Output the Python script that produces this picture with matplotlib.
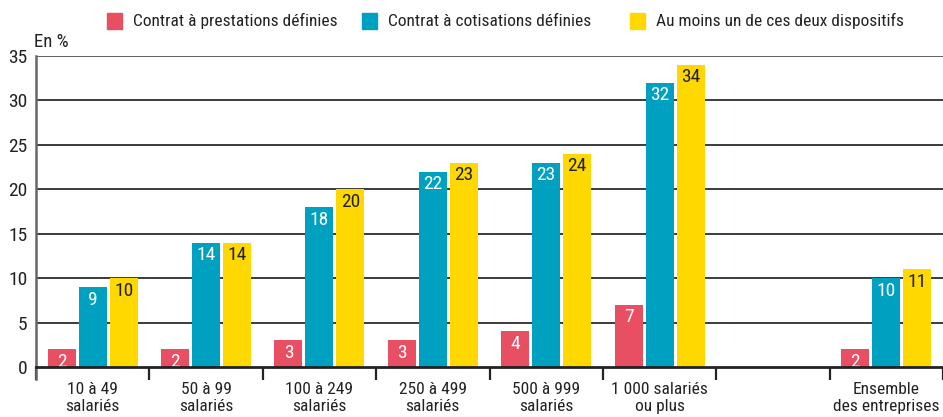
import numpy as np
import matplotlib.pyplot as plt
from matplotlib.patches import Rectangle

plt.rcParams['font.family'] = ['Liberation Sans Narrow', 'Roboto Condensed', 'Roboto', 'DejaVu Sans']
plt.rcParams['font.stretch'] = 'condensed'

categories = ['10 à 49\nsalariés', '50 à 99\nsalariés', '100 à 249\nsalariés',
              '250 à 499\nsalariés', '500 à 999\nsalariés', '1 000 salariés\nou plus',
              '', 'Ensemble\ndes entreprises']
prestations = [2, 2, 3, 3, 4, 7, None, 2]
cotisations = [9, 14, 18, 22, 23, 32, None, 10]
au_moins_un = [10, 14, 20, 23, 24, 34, None, 11]
series_names = ['Contrat à prestations définies', 'Contrat à cotisations définies',
                'Au moins un de ces deux dispositifs']

colors = ['#E84F63', '#00A0C0', '#FFD800']
text_colors = ['white', 'white', '#222222']

fig = plt.figure(figsize=(9.43, 4.17), dpi=100)
ax = fig.add_axes([36 / 943, 50 / 417, 1 - 36 / 943, 311 / 417])

x = np.arange(len(categories))
width = 0.247
offsets = [-0.273, 0, 0.273]

for vals, off, c, tc in zip([prestations, cotisations, au_moins_un], offsets, colors, text_colors):
    for xi, v in zip(x, vals):
        if v is None:
            continue
        ax.bar(xi + off, v, width=width, color=c, zorder=3)
        ax.annotate(str(v), (xi + off, v), xytext=(0, -2.5), textcoords='offset points',
                    ha='center', va='top', color=tc, fontsize=14, zorder=4)

ax.set_xlim(-0.5, len(categories) - 0.5)
ax.set_ylim(0, 35)
ax.set_yticks(np.arange(0, 36, 5))
ax.tick_params(axis='y', length=0, pad=6, labelsize=14, labelcolor='#222222')
for yv in range(5, 36, 5):
    ax.axhline(yv, color='#444444' if yv == 35 else '#1a1a1a', lw=1.2, zorder=1)

# boundaries get the tick marks, centers get the labels
ax.set_xticks(np.arange(-0.5, len(categories) + 0.5, 1))
ax.set_xticklabels([])
ax.tick_params(axis='x', which='major', length=9, width=1.6, color='#222222', direction='out')
ax.set_xticks(x, minor=True)
ax.set_xticklabels(categories, minor=True, fontsize=12.5, color='#222222', linespacing=1.15)
ax.tick_params(axis='x', which='minor', length=0, pad=11)

for s in ['top', 'right']:
    ax.spines[s].set_visible(False)
ax.spines['bottom'].set_linewidth(2)
ax.spines['bottom'].set_color('#222222')
ax.spines['bottom'].set_zorder(5)
ax.spines['left'].set_color('#666666')
ax.spines['left'].set_linewidth(1.8)
ax.spines['left'].set_bounds(-1.3, 35)

fig.text(34 / 943, 1 - 42 / 417, 'En %', fontsize=13.5, color='#222222', va='center', ha='left')

# legend drawn as squares and labels across the top
leg_x = [107, 362, 630]
for lx, c, name in zip(leg_x, colors, series_names):
    fig.patches.append(Rectangle((lx / 943, 1 - 29 / 417), 15 / 943, 16 / 417,
                                 transform=fig.transFigure, color=c))
    fig.text((lx + 26) / 943, 1 - 21 / 417, name, fontsize=12.5, color='#222222',
             va='center', ha='left')

fig.savefig('out.png', dpi=100)
